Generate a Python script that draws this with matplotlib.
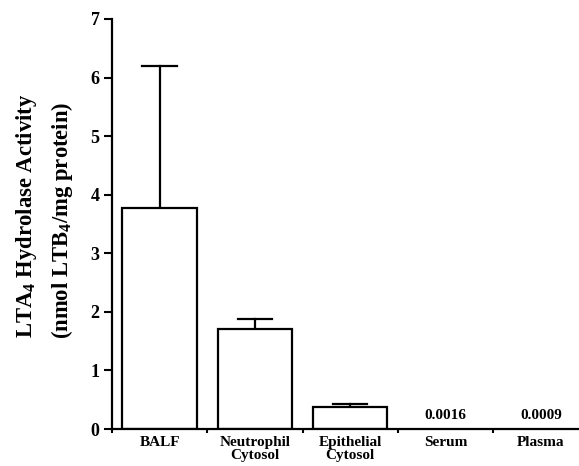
import numpy as np
import matplotlib
matplotlib.use("Agg")
import matplotlib.pyplot as plt

# Data
categories = ["BALF", "Neutrophil\nCytosol", "Epithelial\nCytosol", "Serum", "Plasma"]
activity = [3.77, 1.70, 0.37, 0.0016, 0.0009]
err_upper = [2.42, 0.17, 0.05, 0.0, 0.0]
value_labels = ["", "", "", "0.0016", "0.0009"]

plt.rcParams['font.family'] = ['Liberation Serif', 'DejaVu Serif']
plt.rcParams['mathtext.fontset'] = 'custom'
plt.rcParams['mathtext.rm'] = 'Liberation Serif:bold'
plt.rcParams['mathtext.bf'] = 'Liberation Serif:bold'

fig = plt.figure(figsize=(5.79, 4.66), dpi=100)
ax = fig.add_axes([112 / 579, 1 - 429 / 466, 1 - 112 / 579, (429 - 19) / 466])

x = np.arange(len(categories))
n_bars = 3  # only the first three have visible bars
ax.bar(x[:n_bars], activity[:n_bars], width=0.78, color='white', edgecolor='black',
       linewidth=1.6, zorder=2)

# upper error bars only
for i in range(n_bars):
    top = activity[i] + err_upper[i]
    ax.plot([x[i], x[i]], [activity[i], top], color='black', lw=1.6, zorder=1)
    ax.plot([x[i] - 0.18, x[i] + 0.18], [top, top], color='black', lw=1.6, zorder=1)

for i, lab in enumerate(value_labels):
    if lab:
        ax.text(x[i], 0.12, lab, ha='center', va='bottom', fontsize=11, fontweight='bold')

ax.set_xlim(-0.5, (579 - 112) / 95.3 - 0.5)
ax.set_ylim(0, 7)
ax.set_yticks(range(0, 8))
ax.set_xticks(np.arange(-0.5, 4.0, 1.0))
ax.set_xticklabels([])
ax.tick_params(axis='y', direction='out', length=6, width=1.5, labelsize=13, pad=3)
for t in ax.get_yticklabels():
    t.set_fontweight('bold')
ax.tick_params(axis='x', direction='out', length=3, width=1.5)

for i, c in enumerate(categories):
    ax.text(x[i], -0.12, c, ha='center', va='top', fontsize=11, fontweight='bold',
            linespacing=0.95)

ax.spines['top'].set_visible(False)
ax.spines['right'].set_visible(False)
ax.spines['left'].set_linewidth(1.6)
ax.spines['bottom'].set_linewidth(1.6)

fig.text(27 / 579, 1 - 216 / 466, r"LTA$_\mathbf{4}$ Hydrolase Activity", rotation=90,
         ha='center', va='center', fontsize=16.3, fontweight='bold')
fig.text(62 / 579, 1 - 220 / 466, r"(nmol LTB$_\mathbf{4}$/mg protein)", rotation=90,
         ha='center', va='center', fontsize=16.3, fontweight='bold')

fig.savefig("out.png", dpi=100)
